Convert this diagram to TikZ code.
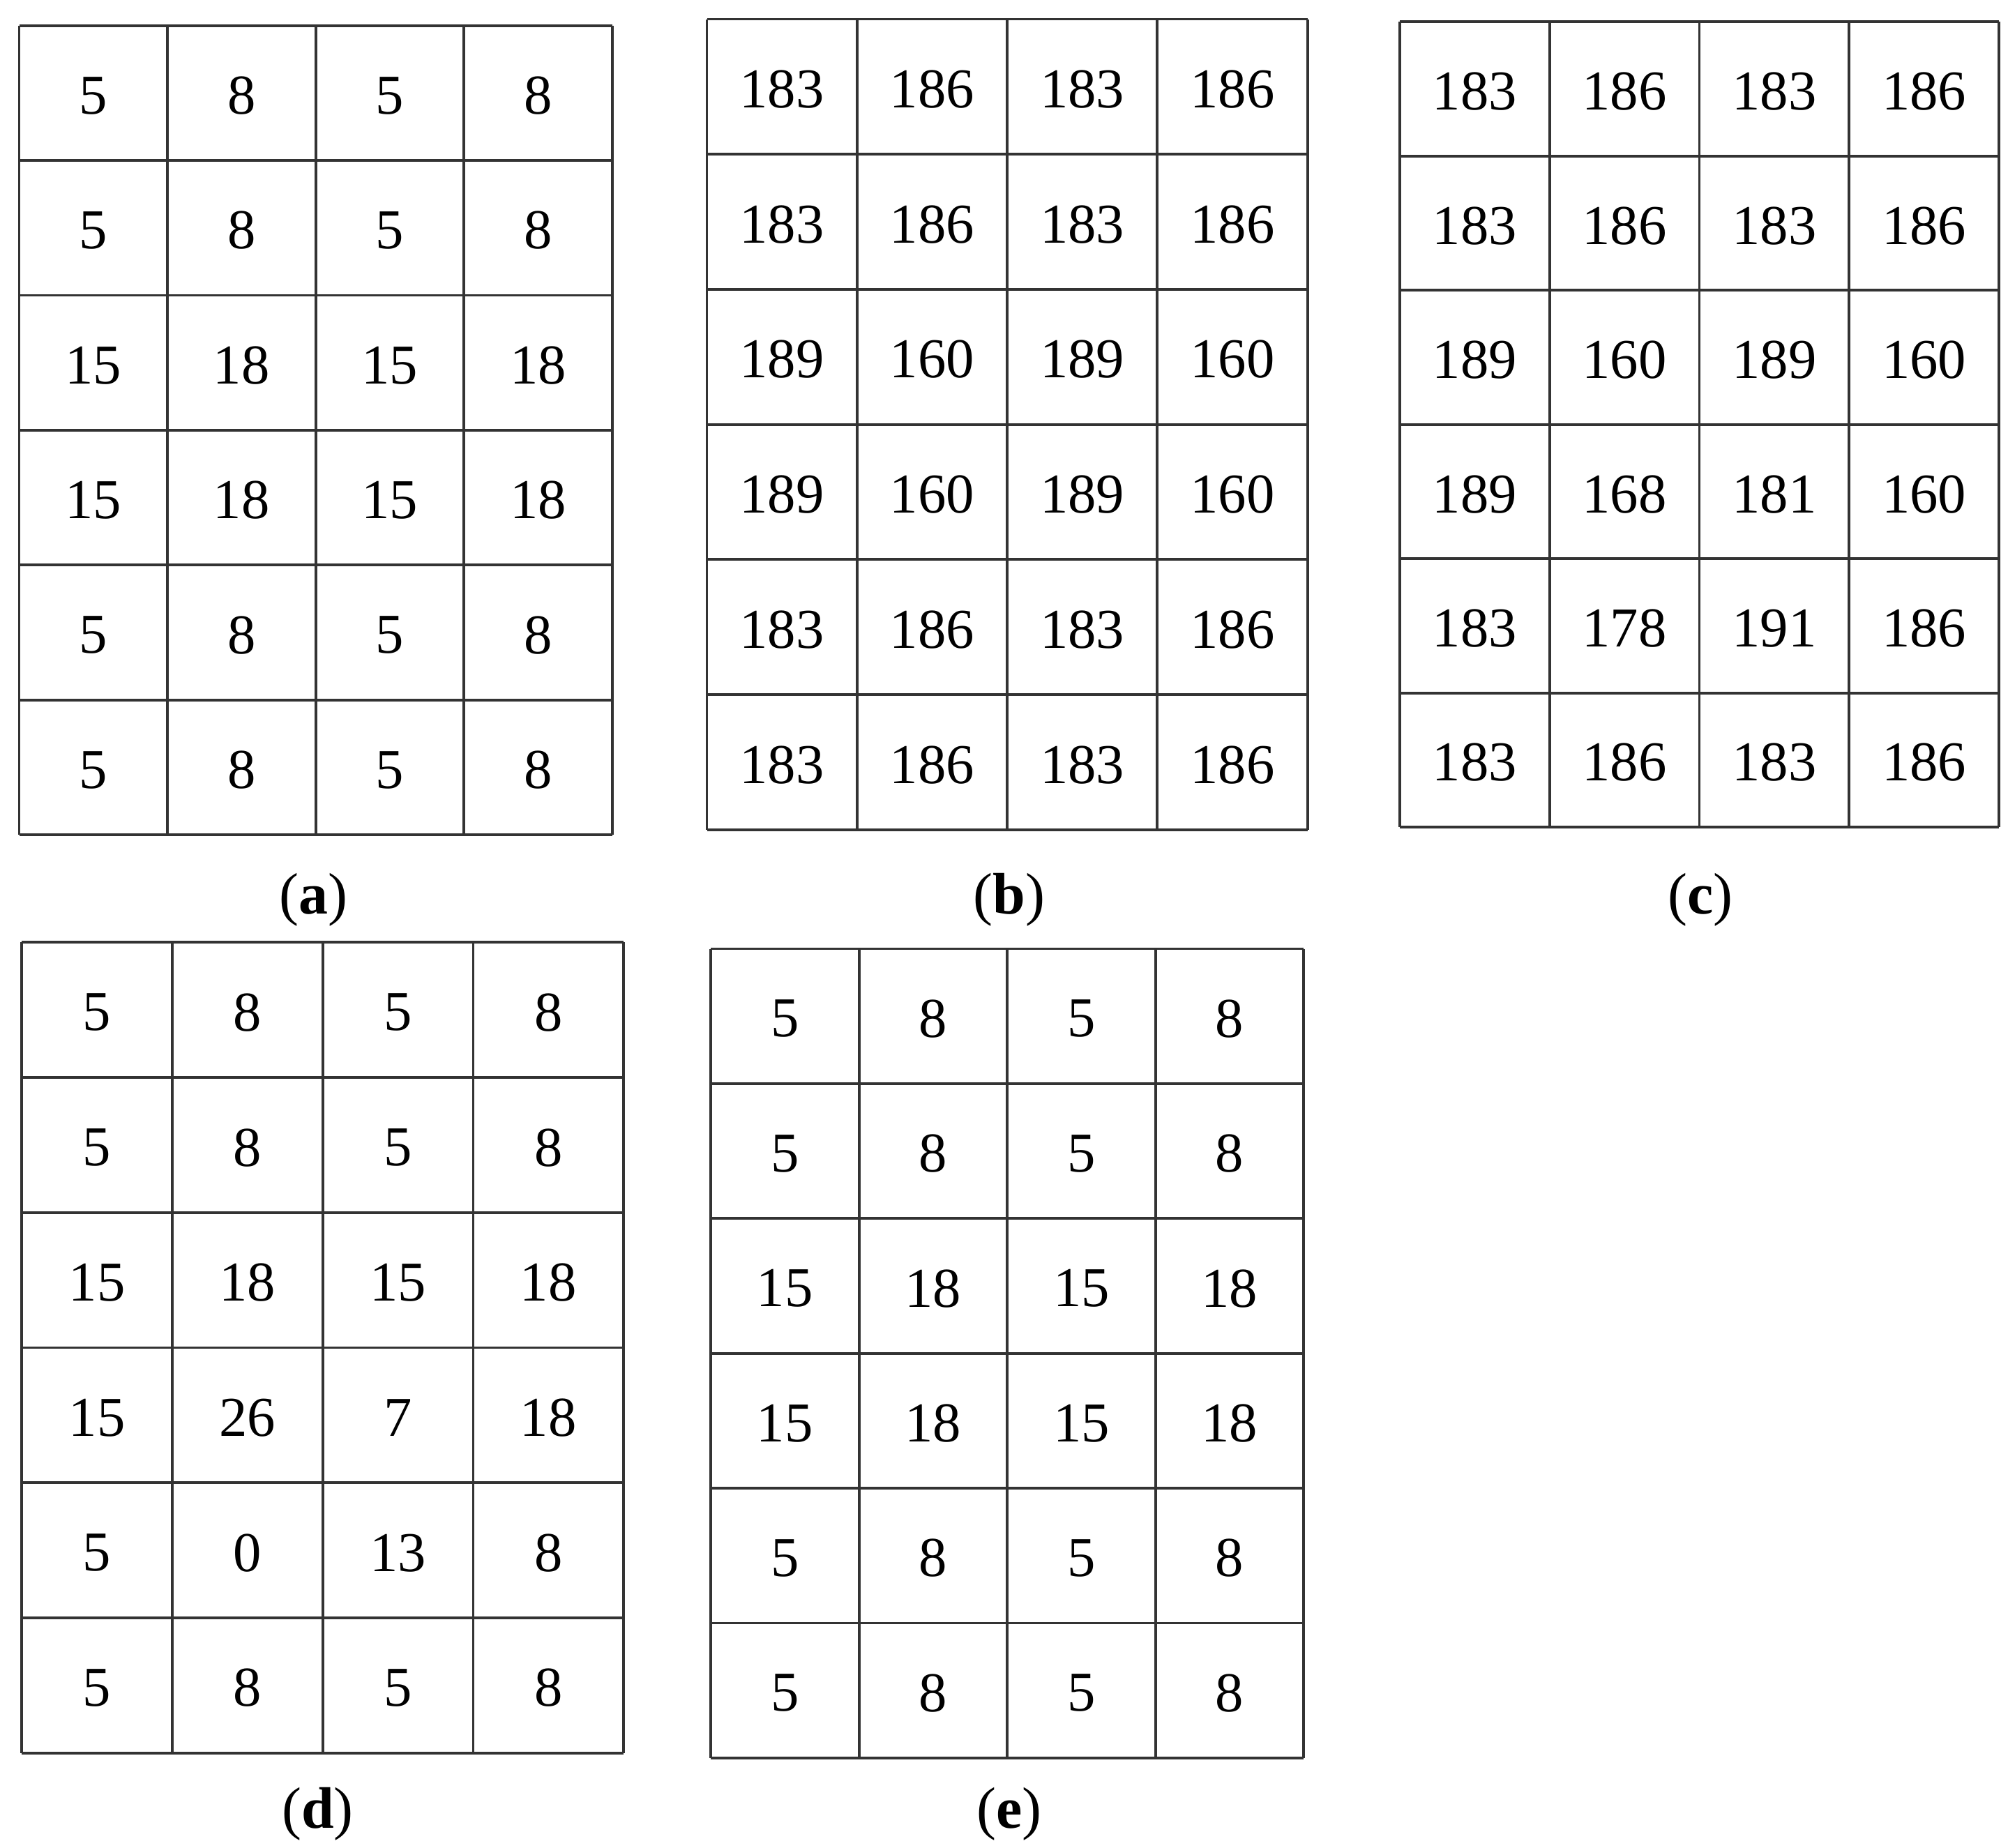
\documentclass[tikz,border=0pt]{standalone}
\usepackage{fontspec}
\setmainfont{Liberation Serif}
\begin{document}
\begin{tikzpicture}[x=0.01cm,y=-0.01cm,
  gridline/.style={draw=black!80,line width=0.6pt},
  num/.style={font=\fontsize{12.5}{14}\selectfont,inner sep=0pt},
  lab/.style={font=\fontsize{13}{15}\selectfont,inner sep=0pt}]
\useasboundingbox (0,0) rectangle (1568,1443);
\newcommand{\mygrid}[6]{%
  \draw[gridline] (#1,#2) grid[xstep=(#3-#1)/4,ystep=(#4-#2)/6] (#3,#4);
  \draw[gridline] (#1,#2) rectangle (#3,#4);
  \foreach \r [count=\i] in {#6}{
    \foreach \v [count=\j] in \r{
      \node[num] (#5-\i-\j) at ({#1+(\j-0.5)*(#3-#1)/4},{#2+(\i-0.5)*(#4-#2)/6}) {\v};
    }}
}
\begin{scope}
\foreach \xa/\xb in {0/0}{}
\end{scope}
% grids drawn with explicit lines to avoid grid step issues
\newcommand{\mgrid}[6]{%
  \foreach \k in {0,...,4}{\draw[gridline] ({#1+\k*(#3-#1)/4},#2) -- ({#1+\k*(#3-#1)/4},#4);}
  \foreach \k in {0,...,6}{\draw[gridline] (#1,{#2+\k*(#4-#2)/6}) -- (#3,{#2+\k*(#4-#2)/6});}
  \foreach \r [count=\i] in {#6}{
    \foreach \v [count=\j] in \r{
      \node[num] (#5-\i-\j) at ({#1+(\j-0.5)*(#3-#1)/4},{#2+(\i-0.5)*(#4-#2)/6+2}) {\v};
    }}
}
\mgrid{15}{20}{478}{652}{a}{{5,8,5,8},{5,8,5,8},{15,18,15,18},{15,18,15,18},{5,8,5,8},{5,8,5,8}}
\mgrid{552}{15}{1021}{648}{b}{{183,186,183,186},{183,186,183,186},{189,160,189,160},{189,160,189,160},{183,186,183,186},{183,186,183,186}}
\mgrid{1093}{17}{1561}{646}{c}{{183,186,183,186},{183,186,183,186},{189,160,189,160},{189,168,181,160},{183,178,191,186},{183,186,183,186}}
\mgrid{17}{736}{487}{1369}{d}{{5,8,5,8},{5,8,5,8},{15,18,15,18},{15,26,7,18},{5,0,13,8},{5,8,5,8}}
\mgrid{555}{741}{1018}{1373}{e}{{5,8,5,8},{5,8,5,8},{15,18,15,18},{15,18,15,18},{5,8,5,8},{5,8,5,8}}
\node[lab] (la) at (245,703) {(\textbf{a})};
\node[lab] (lb) at (788,703) {(\textbf{b})};
\node[lab] (lc) at (1328,703) {(\textbf{c})};
\node[lab] (ld) at (248,1417) {(\textbf{d})};
\node[lab] (le) at (788,1417) {(\textbf{e})};
\end{tikzpicture}
\end{document}
